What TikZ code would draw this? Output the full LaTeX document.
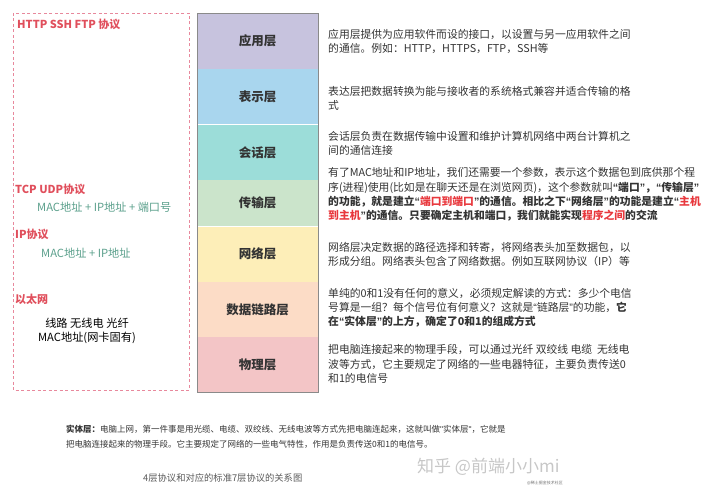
\documentclass[tikz,border=0pt]{standalone}
\usepackage{fontspec}
\setmainfont{Noto Sans CJK SC}
\newfontfamily\quotefont{Liberation Sans}
\usetikzlibrary{positioning,fit}
\definecolor{layerapp}{HTML}{C7C3DE}
\definecolor{layerpres}{HTML}{A9D6EE}
\definecolor{layersess}{HTML}{9CDDD9}
\definecolor{layertrans}{HTML}{CBE4CB}
\definecolor{layernet}{HTML}{FDEEB8}
\definecolor{layerlink}{HTML}{FCDCC6}
\definecolor{layerphys}{HTML}{F3C5C6}
\definecolor{layerline}{HTML}{8A8A8A}
\definecolor{protored}{HTML}{E04F5C}
\definecolor{hotred}{HTML}{E8383D}
\definecolor{addrgreen}{HTML}{5A9F8B}
\definecolor{dashpink}{HTML}{E8889C}
\newcommand{\hot}[1]{\textcolor{hotred}{#1}}
\newcommand{\oq}{{\quotefont “}}
\newcommand{\cq}{{\quotefont ”}}
\newcommand{\sq}{{\quotefont "}}

\begin{document}
\begin{tikzpicture}[x=1pt,y=-1pt,
  layer/.style={minimum width=121pt,inner sep=0pt,font=\fontsize{12.5}{14}\selectfont\bfseries,text=black!80},
  desc/.style={anchor=west,align=left,inner sep=0pt,font=\fontsize{10.8}{14.2}\selectfont,text=black!80},
  proto/.style={anchor=west,inner sep=0pt,font=\fontsize{11}{13}\selectfont\bfseries,text=protored},
  addr/.style={anchor=west,inner sep=0pt,font=\fontsize{11.2}{13}\selectfont,text=addrgreen}]
  \useasboundingbox (0,0) rectangle (720,497);

  % left box: the 4 layer protocols
  \draw[dashpink,line width=0.9pt,dash pattern=on 3pt off 2.5pt] (13,13) rectangle (189,390);
  \node[proto] (httpp) at (17,24) {HTTP SSH FTP 协议};
  \node[proto] (tcpp) at (15,189) {TCP UDP协议};
  \node[addr] (tcpaddr) at (37,207) {MAC地址 + IP地址 + 端口号};
  \node[proto] (ipp) at (15,234) {IP协议};
  \node[addr] (ipaddr) at (41,253) {MAC地址 + IP地址};
  \node[proto] (etherp) at (15,299) {以太网};
  \node[align=center,inner sep=0pt,font=\fontsize{11.2}{13.5}\selectfont] (etheraddr) at (87,331)
    {线路 无线电 光纤\\MAC地址(网卡固有)};

  % the 7 layers
  \node[layer,fill=layerapp,minimum height=56pt] (app) at (257.5,41) {应用层};
  \node[layer,fill=layerpres,minimum height=55pt,below=0pt of app] (pres) {表示层};
  \node[layer,fill=layersess,minimum height=55pt,below=0pt of pres] (sess) {会话层};
  \node[layer,fill=layertrans,minimum height=46pt,below=0pt of sess] (trans) {传输层};
  \node[layer,fill=layernet,minimum height=55pt,below=0pt of trans] (net) {网络层};
  \node[layer,fill=layerlink,minimum height=55pt,below=0pt of net] (link) {数据链路层};
  \node[layer,fill=layerphys,minimum height=55pt,below=0pt of link] (phys) {物理层};
  \node[draw=layerline,fit=(app)(phys),inner sep=0pt] (stack) {};

  % what each layer does
  \node[desc] (appdesc) at (328,41.5) {应用层提供为应用软件而设的接口，以设置与另一应用软件之间\\的通信。例如：HTTP，HTTPS，FTP，SSH等};
  \node[desc] (presdesc) at (328,98) {表达层把数据转换为能与接收者的系统格式兼容并适合传输的格\\式};
  \node[desc] (sessdesc) at (328,143.5) {会话层负责在数据传输中设置和维护计算机网络中两台计算机之\\间的通信连接};
  \node[desc] (transdesc) at (328,194.5) {有了MAC地址和IP地址，我们还需要一个参数，表示这个数据包到底供那个程\\
    序(进程)使用(比如是在聊天还是在浏览网页)，这个参数就叫\textbf{\oq 端口\cq，\oq 传输层\cq}\\
    \textbf{的功能，就是建立\oq\hot{端口到端口}\cq 的通信。相比之下\oq 网络层\cq 的功能是建立\oq\hot{主机}}\\
    \textbf{\hot{到主机}\cq 的通信。只要确定主机和端口，我们就能实现\hot{程序之间}的交流}};
  \node[desc] (netdesc) at (328,254.5) {网络层决定数据的路径选择和转寄，将网络表头加至数据包，以\\形成分组。网络表头包含了网络数据。例如互联网协议（IP）等};
  \node[desc] (linkdesc) at (328,307.5) {单纯的0和1没有任何的意义，必须规定解读的方式：多少个电信\\
    号算是一组？每个信号位有何意义？这就是\oq 链路层\cq 的功能，\textbf{它}\\
    \textbf{在\oq 实体层\cq 的上方，确定了0和1的组成方式}};
  \node[desc] (physdesc) at (328,364) {把电脑连接起来的物理手段，可以通过光纤 双绞线 电缆 \ 无线电\\波等方式，它主要规定了网络的一些电器特征，主要负责传送0\\和1的电信号};

  % bottom note and caption
  \node[anchor=west,align=left,inner sep=0pt,font=\fontsize{8.5}{15}\selectfont,text=black!80] (note) at (66,436.5)
    {\textbf{实体层：}电脑上网，第一件事是用光缆、电缆、双绞线、无线电波等方式先把电脑连起来，这就叫做\sq 实体层\sq，它就是\\
     把电脑连接起来的物理手段。它主要规定了网络的一些电气特性，作用是负责传送0和1的电信号。};
  \node[anchor=west,inner sep=0pt,font=\fontsize{9.3}{11}\selectfont,text=black!65] (caption) at (143,478)
    {4层协议和对应的标准7层协议的关系图};
  \node[anchor=west,inner sep=0pt,font=\fontsize{17}{19}\selectfont,text=black!22] (mark) at (417,467)
    {知乎 @前端小小mi};
  \node[anchor=west,inner sep=0pt,font=\fontsize{4}{5}\selectfont,text=black!55] (markb) at (527,483)
    {@稀土掘金技术社区};
\end{tikzpicture}
\end{document}
